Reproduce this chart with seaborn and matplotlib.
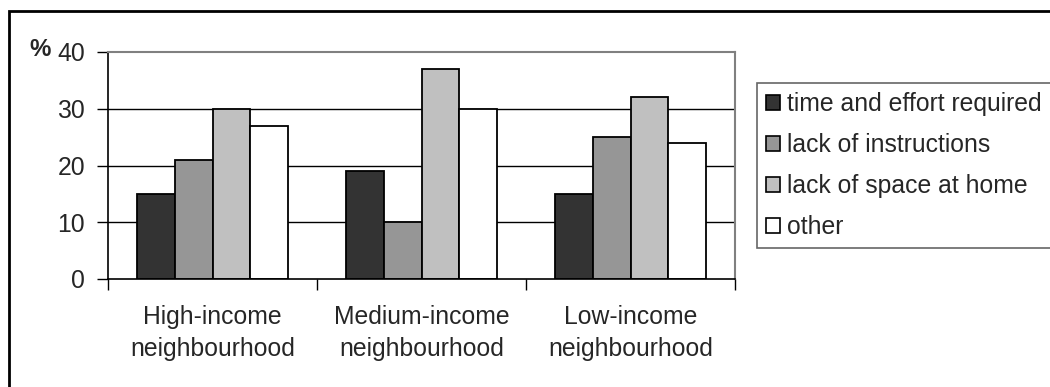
import matplotlib
matplotlib.use("Agg")
import matplotlib.pyplot as plt
from matplotlib.patches import Patch, Rectangle
import seaborn as sns
import pandas as pd

# Neighbourhood categories (x axis) and reasons (hue)
neighbourhoods = ["High-income\nneighbourhood", "Medium-income\nneighbourhood", "Low-income\nneighbourhood"]
reasons = ["time and effort required", "lack of instructions", "lack of space at home", "other"]

# Percentage of respondents per reason, one list per neighbourhood
high_income = [15, 21, 30, 27]
medium_income = [19, 10, 37, 30]
low_income = [15, 25, 32, 24]

y_ticks = [0, 10, 20, 30, 40]
bar_colors = ["#333333", "#969696", "#c0c0c0", "#ffffff"]

rows = []
for hood, vals in zip(neighbourhoods, [high_income, medium_income, low_income]):
    for reason, v in zip(reasons, vals):
        rows.append({"neighbourhood": hood, "reason": reason, "percent": v})
df = pd.DataFrame(rows)

sns.set_theme(style="white")
plt.rcParams["font.family"] = ["Liberation Sans", "DejaVu Sans"]
FS = 17.8

fig = plt.figure(figsize=(10.5, 3.87), dpi=100)
ax = fig.add_axes([108 / 1050, 1 - 279 / 387, (735 - 108) / 1050, (279 - 52) / 387])

# Outer chart frame (only top and left edges fall inside the canvas)
fig.patches.append(Rectangle((9 / 1050, -0.1), 1.2, 1.1 - 11 / 387, transform=fig.transFigure,
                             fill=False, edgecolor="black", linewidth=2.0, zorder=0))

ax.set_axisbelow(True)
for y in y_ticks[1:-1]:
    ax.axhline(y, color="black", linewidth=1.0, zorder=0)

sns.barplot(data=df, x="neighbourhood", y="percent", hue="reason", order=neighbourhoods,
            hue_order=reasons, palette=bar_colors, width=0.72, gap=0,
            edgecolor="black", linewidth=1.3, legend=False, ax=ax, zorder=2)

ax.set_ylim(0, 40)
ax.set_xlim(-0.5, 2.5)
ax.set_yticks(y_ticks)
ax.set_yticklabels([str(t) for t in y_ticks], fontsize=FS)
ax.tick_params(axis="y", direction="out", length=8, width=1, color="black", pad=8.5, left=True)

ax.set_xticks([0, 1, 2])
ax.set_xticklabels(neighbourhoods, fontsize=FS, linespacing=1.42)
ax.set_xticks([-0.5, 0.5, 1.5, 2.5], minor=True)
ax.tick_params(axis="x", which="major", length=0, pad=19)
ax.tick_params(axis="x", which="minor", direction="out", length=8, width=1, color="black", bottom=True)
ax.set_xlabel("")
ax.set_ylabel("")

for side in ["left", "bottom"]:
    ax.spines[side].set_color("black")
    ax.spines[side].set_linewidth(1.2)
for side in ["top", "right"]:
    ax.spines[side].set_visible(True)
    ax.spines[side].set_color("#808080")
    ax.spines[side].set_linewidth(1.5)

fig.text(40 / 1050, 1 - 50 / 387, "%", fontsize=FS - 0.5, fontweight="bold", ha="center", va="center")

handles = [Patch(facecolor=c, edgecolor="black", linewidth=1.2) for c in bar_colors]
leg = fig.legend(handles, reasons, loc="upper left", bbox_to_anchor=(757 / 1050, 1 - 83 / 387),
                 fontsize=FS, frameon=True, fancybox=False, edgecolor="#404040",
                 handlelength=0.55, handleheight=0.55, handletextpad=0.3,
                 labelspacing=0.68, borderpad=0.38, borderaxespad=0)
leg.get_frame().set_linewidth(1.2)

fig.savefig("out.png", dpi=100, facecolor="white")
